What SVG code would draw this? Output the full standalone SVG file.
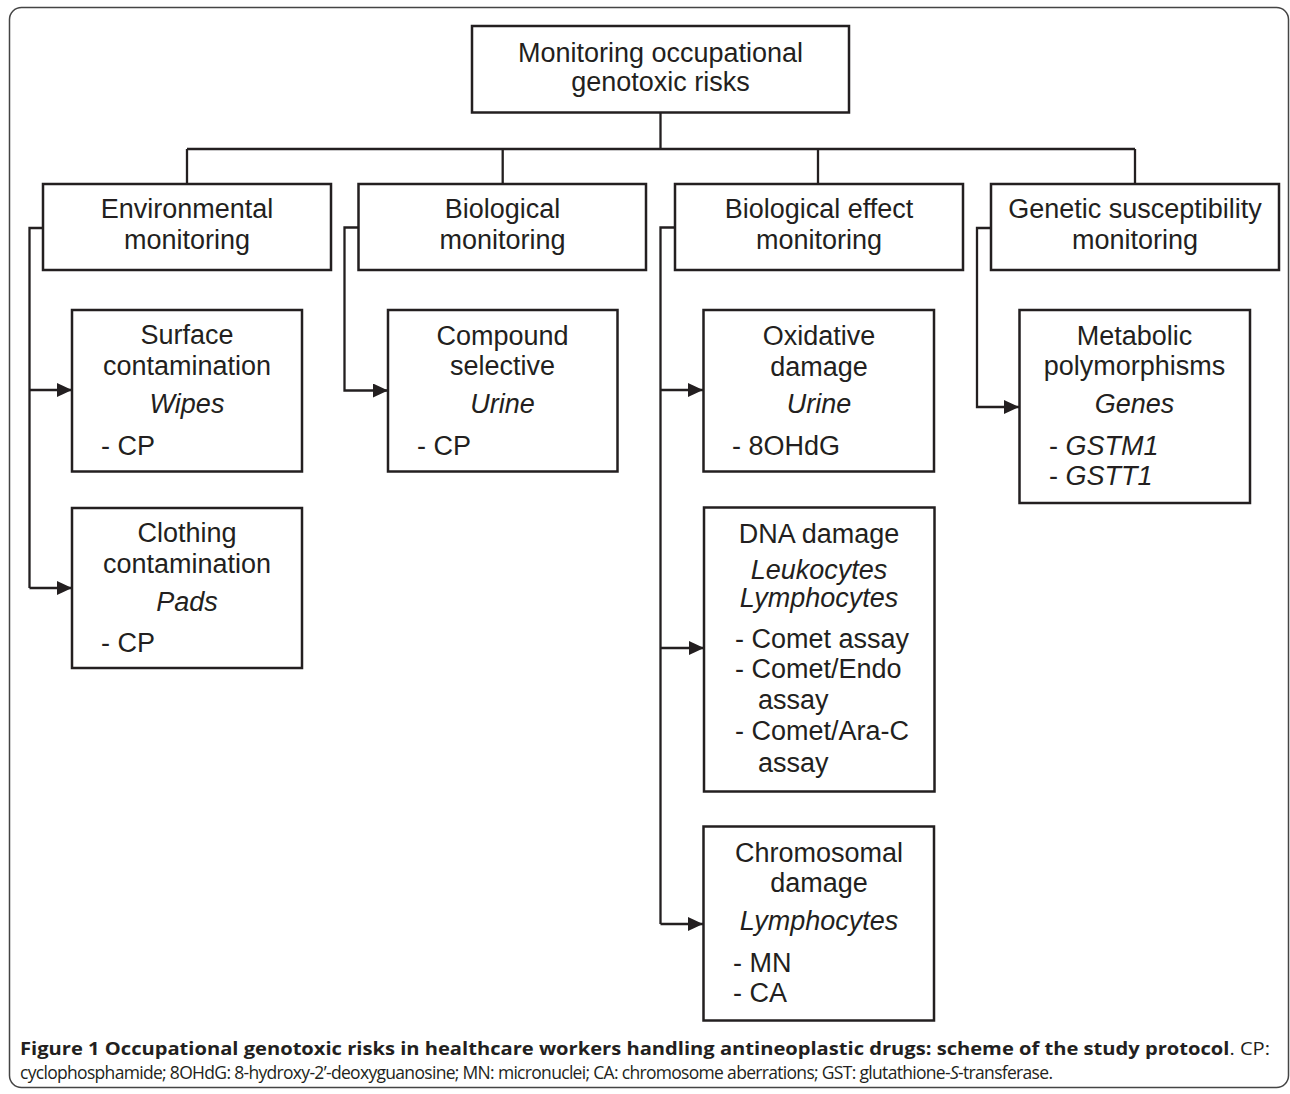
<svg xmlns="http://www.w3.org/2000/svg" width="1290" height="1094" viewBox="0 0 1290 1094">
<style>
.box{fill:#fff;stroke:#231f20;stroke-width:2.5}
.con{fill:none;stroke:#231f20;stroke-width:2.3}
.t{font-family:"Liberation Sans",Arial,Helvetica,sans-serif;font-size:27px;fill:#231f20;text-anchor:middle}
.l{text-anchor:start}
.i{font-style:italic}
.cap{font-family:"Open Sans","Noto Sans",sans-serif;font-size:17.5px;fill:#231f20}
</style>
<defs>
<marker id="arr" markerWidth="15" markerHeight="14" refX="15" refY="7" orient="auto" markerUnits="userSpaceOnUse">
<path d="M0,0 L15,7 L0,14 Z" fill="#231f20"/>
</marker>
</defs>
<rect x="9.5" y="7.5" width="1279" height="1080" rx="12" fill="#fff" stroke="#444" stroke-width="1.5"/>
<g id="connectors">
<path class="con" d="M660.5,112.5 V149 M187,149 H1135 M187,149 V184 M502.7,149 V184 M818,149 V184 M1135,149 V184"/>
<path class="con" d="M43,228 H29.5 V588"/>
<path class="con" marker-end="url(#arr)" d="M29.5,390 H72"/>
<path class="con" marker-end="url(#arr)" d="M29.5,588 H72"/>
<path class="con" marker-end="url(#arr)" d="M358,227.5 H344.5 V390.5 H388"/>
<path class="con" d="M675,227.5 H660.5 V924"/>
<path class="con" marker-end="url(#arr)" d="M660.5,390 H703"/>
<path class="con" marker-end="url(#arr)" d="M660.5,648 H704"/>
<path class="con" marker-end="url(#arr)" d="M660.5,924 H703"/>
<path class="con" marker-end="url(#arr)" d="M991,228 H977 V407 H1019"/>
</g>
<g id="top">
<rect class="box" x="472" y="26" width="377" height="86.5"/>
<text class="t" x="660.5" y="61.5">Monitoring occupational</text>
<text class="t" x="660.5" y="90.5">genotoxic risks</text>
</g>
<g id="env">
<rect class="box" x="43" y="184" width="288" height="86"/>
<text class="t" x="187" y="218.3">Environmental</text>
<text class="t" x="187" y="249.3">monitoring</text>
</g>
<g id="bio">
<rect class="box" x="358.5" y="184" width="287.5" height="86"/>
<text class="t" x="502.5" y="218.3">Biological</text>
<text class="t" x="502.5" y="249.3">monitoring</text>
</g>
<g id="bioeff">
<rect class="box" x="675" y="184" width="288" height="86"/>
<text class="t" x="819" y="218.3">Biological effect</text>
<text class="t" x="819" y="249.3">monitoring</text>
</g>
<g id="genetic">
<rect class="box" x="991" y="184" width="288" height="86"/>
<text class="t" x="1135" y="218.3">Genetic susceptibility</text>
<text class="t" x="1135" y="249.3">monitoring</text>
</g>
<g id="surface">
<rect class="box" x="72" y="310" width="230" height="161.5"/>
<text class="t" x="187" y="344">Surface</text>
<text class="t" x="187" y="375">contamination</text>
<text class="t i" x="187" y="413">Wipes</text>
<text class="t l" x="101" y="455">- CP</text>
</g>
<g id="clothing">
<rect class="box" x="72" y="508" width="230" height="160"/>
<text class="t" x="187" y="542">Clothing</text>
<text class="t" x="187" y="572.5">contamination</text>
<text class="t i" x="187" y="610.5">Pads</text>
<text class="t l" x="101" y="652">- CP</text>
</g>
<g id="compound">
<rect class="box" x="388" y="310" width="229.5" height="161.5"/>
<text class="t" x="502.5" y="345">Compound</text>
<text class="t" x="502.5" y="375">selective</text>
<text class="t i" x="502.5" y="413">Urine</text>
<text class="t l" x="417" y="455">- CP</text>
</g>
<g id="oxidative">
<rect class="box" x="703.5" y="310" width="230.5" height="161.5"/>
<text class="t" x="819" y="345">Oxidative</text>
<text class="t" x="819" y="376">damage</text>
<text class="t i" x="819" y="413">Urine</text>
<text class="t l" x="732" y="455">- 8OHdG</text>
</g>
<g id="dna">
<rect class="box" x="704" y="507.5" width="230.5" height="284"/>
<text class="t" x="819" y="543">DNA damage</text>
<text class="t i" x="819" y="579">Leukocytes</text>
<text class="t i" x="819" y="607">Lymphocytes</text>
<text class="t l" x="735" y="648">- Comet assay</text>
<text class="t l" x="735" y="678">- Comet/Endo</text>
<text class="t l" x="758" y="709">assay</text>
<text class="t l" x="735" y="740">- Comet/Ara-C</text>
<text class="t l" x="758" y="772">assay</text>
</g>
<g id="chromosomal">
<rect class="box" x="703.5" y="826.5" width="230.5" height="194"/>
<text class="t" x="819" y="862">Chromosomal</text>
<text class="t" x="819" y="892">damage</text>
<text class="t i" x="819" y="930">Lymphocytes</text>
<text class="t l" x="733" y="972">- MN</text>
<text class="t l" x="733" y="1002">- CA</text>
</g>
<g id="metabolic">
<rect class="box" x="1019.5" y="310" width="230.5" height="193"/>
<text class="t" x="1134.5" y="345">Metabolic</text>
<text class="t" x="1134.5" y="375">polymorphisms</text>
<text class="t i" x="1134.5" y="413">Genes</text>
<text class="t l" x="1049" y="455">- <tspan class="i">GSTM1</tspan></text>
<text class="t l" x="1049" y="485">- <tspan class="i">GSTT1</tspan></text>
</g>
<g id="caption">
<text class="cap" x="20" y="1055" textLength="1250" lengthAdjust="spacingAndGlyphs"><tspan font-weight="bold">Figure 1 Occupational genotoxic risks in healthcare workers handling antineoplastic drugs: scheme of the study protocol</tspan>. CP:</text>
<text class="cap" x="20" y="1079" font-size="17" textLength="1033" lengthAdjust="spacing">cyclophosphamide; 8OHdG: 8-hydroxy-2’-deoxyguanosine; MN: micronuclei; CA: chromosome aberrations; GST: glutathione-<tspan font-style="italic">S</tspan>-transferase.</text>
</g>
</svg>
